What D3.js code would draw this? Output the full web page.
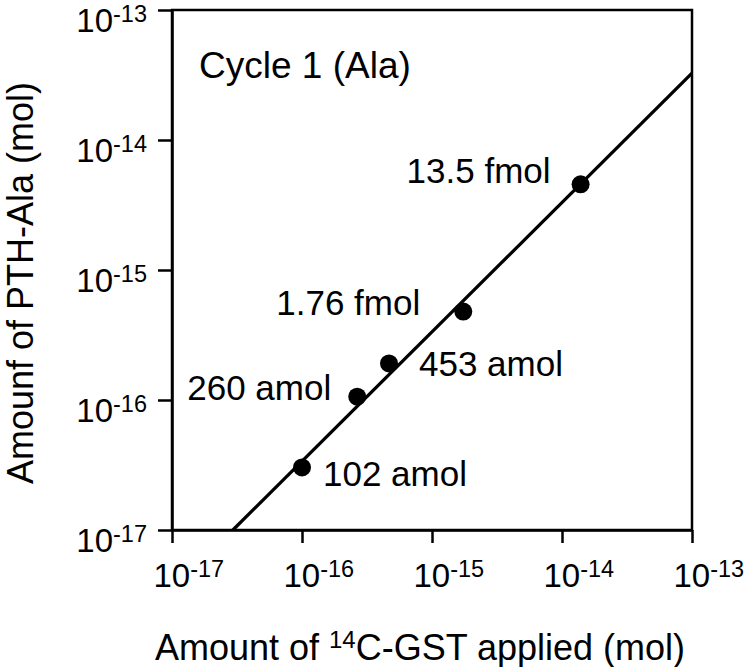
<!DOCTYPE html>
<html>
<head>
<meta charset="utf-8">
<script src="https://cdn.jsdelivr.net/npm/d3@7"></script>
<style>
  body { margin: 0; background: #fff; }
  svg { font-family: "Liberation Sans", Arial, Helvetica, sans-serif; }
</style>
</head>
<body>
<div id="chart"></div>
<script>
// Data (mol)
var applied = [1.0e-16, 2.66e-16, 4.67e-16, 1.74e-15, 1.39e-14];
var measured = [3.03e-17, 1.06e-16, 1.91e-16, 4.79e-16, 4.56e-15];
var pointLabels = ["102 amol", "260 amol", "453 amol", "1.76 fmol", "13.5 fmol"];
// label offsets from the point (px)
var labelDx = [21, -170, 30, -187, -174];
var labelDy = [19, 3, 13, 3, -1];
// fitted line end points
var fitX = [2.94e-17, 1e-13];
var fitY = [1e-17, 3.27e-14];
// ticks
var tickVals = [1e-17, 1e-16, 1e-15, 1e-14, 1e-13];
var tickExp = ["-17", "-16", "-15", "-14", "-13"];

function createChart() {
    var W = 752, H = 667;
    var left = 172, right = 692, top = 10, bottom = 530;

    var svg = d3.select("#chart")
        .append("svg")
        .attr("width", W)
        .attr("height", H);

    var x = d3.scaleLog().domain([1e-17, 1e-13]).range([left, right]);
    var y = d3.scaleLog().domain([1e-17, 1e-13]).range([bottom, top]);

    // frame
    svg.append("rect")
        .attr("x", left).attr("y", top)
        .attr("width", right - left).attr("height", bottom - top)
        .attr("fill", "none").attr("stroke", "#000").attr("stroke-width", 2.5);

    // axes (ticks only, labels drawn below)
    var xAxis = d3.axisBottom(x).tickValues(tickVals).tickFormat("").tickSize(13).tickSizeOuter(0);
    var yAxis = d3.axisLeft(y).tickValues(tickVals).tickFormat("").tickSize(14).tickSizeOuter(0);

    var gx = svg.append("g").attr("transform", "translate(0," + bottom + ")").call(xAxis);
    var gy = svg.append("g").attr("transform", "translate(" + left + ",0)").call(yAxis);
    [gx, gy].forEach(function (g) {
        g.select(".domain").attr("stroke", "#000").attr("stroke-width", 2.5);
        g.selectAll(".tick line").attr("stroke", "#000").attr("stroke-width", 2.5);
    });

    // x tick labels: "10" centred on tick, exponent as superscript
    tickVals.forEach(function (v, i) {
        var t = svg.append("text")
            .attr("x", x(v) - 18.5)
            .attr("y", 587)
            .attr("font-size", 33);
        t.append("tspan").text("10");
        t.append("tspan").attr("font-size", 23.5).attr("dy", -10).text(tickExp[i]);
    });

    // y tick labels
    tickVals.forEach(function (v, i) {
        var t = svg.append("text")
            .attr("x", 147)
            .attr("y", y(v) + 22)
            .attr("text-anchor", "end")
            .attr("font-size", 33);
        t.append("tspan").text("10");
        t.append("tspan").attr("font-size", 23.5).attr("dy", -10).text(tickExp[i]);
    });

    // fit line
    var line = d3.line()
        .x(function (d) { return x(d[0]); })
        .y(function (d) { return y(d[1]); });
    svg.append("path")
        .datum(fitX.map(function (d, i) { return [d, fitY[i]]; }))
        .attr("d", line)
        .attr("fill", "none")
        .attr("stroke", "#000")
        .attr("stroke-width", 3.3);

    // points
    svg.selectAll(".dot")
        .data(applied)
        .enter().append("circle")
        .attr("class", "dot")
        .attr("cx", function (d) { return x(d); })
        .attr("cy", function (d, i) { return y(measured[i]); })
        .attr("r", 9)
        .attr("fill", "#000");

    // point labels
    svg.selectAll(".plabel")
        .data(pointLabels)
        .enter().append("text")
        .attr("class", "plabel")
        .attr("x", function (d, i) { return x(applied[i]) + labelDx[i]; })
        .attr("y", function (d, i) { return y(measured[i]) + labelDy[i]; })
        .attr("font-size", 35)
        .text(function (d) { return d; });

    // panel title
    svg.append("text")
        .attr("x", 199).attr("y", 78)
        .attr("font-size", 37)
        .text("Cycle 1 (Ala)");

    // x axis title
    var xt = svg.append("text")
        .attr("x", 420).attr("y", 660)
        .attr("text-anchor", "middle")
        .attr("font-size", 36);
    xt.append("tspan").text("Amount of ");
    xt.append("tspan").attr("font-size", 24).attr("dy", -12).text("14");
    xt.append("tspan").attr("dy", 12).text("C-GST applied (mol)");

    // y axis title
    svg.append("text")
        .attr("transform", "translate(33,283) rotate(-90)")
        .attr("text-anchor", "middle")
        .attr("font-size", 36)
        .text("Amounf of PTH-Ala (mol)");
}

createChart();
</script>
</body>
</html>
